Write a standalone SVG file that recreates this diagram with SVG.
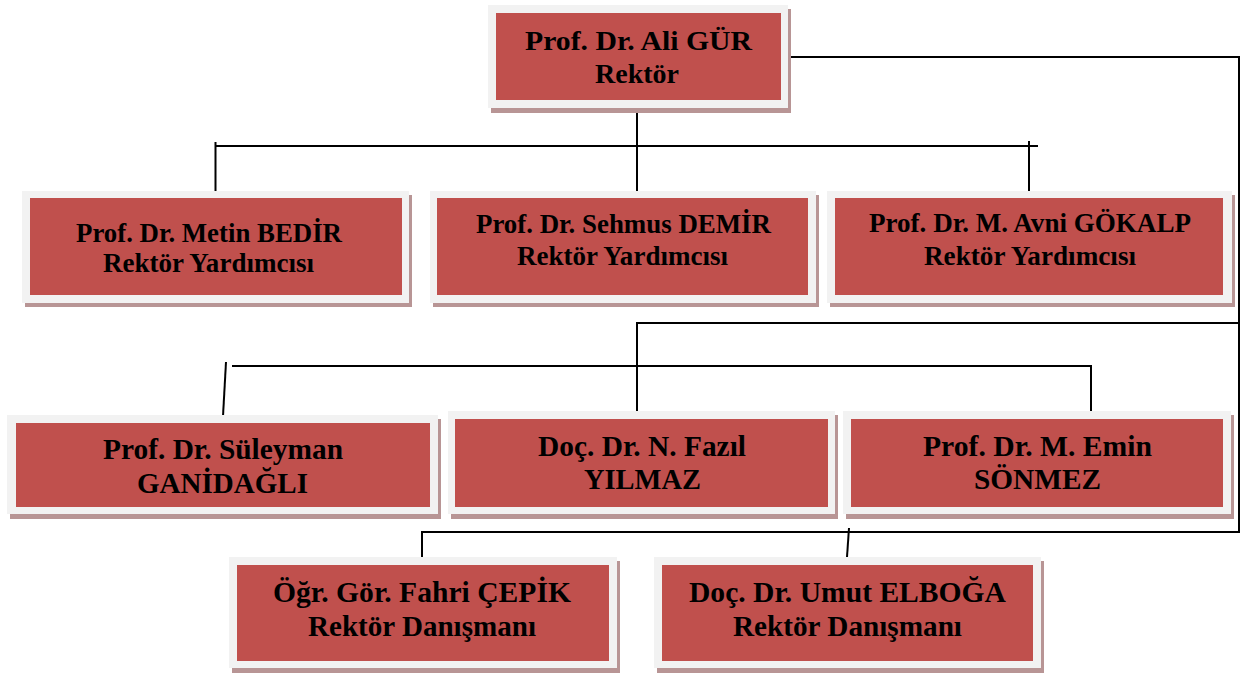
<svg xmlns="http://www.w3.org/2000/svg" width="1241" height="673" viewBox="0 0 1241 673">
<style>
.sh{fill:#b89595}
.fr{fill:#f2f2f2}
.bx{fill:#c0504d}
text{font-family:"Liberation Serif","Times New Roman",serif;font-weight:bold;fill:#000}
.t0{font-size:28px}
.t1{font-size:26.5px}
.t2{font-size:29px}
.ln{fill:none;stroke:#000;stroke-width:2}
</style>
<rect width="1241" height="673" fill="#fff"/>
<g id="connectors">
<path class="ln" d="M788,57 H1239 V532 H422 V557"/>
<path class="ln" d="M637,108 V191"/>
<path class="ln" d="M215.5,191 V142 M215.5,146 H1038 M1029,141 V191"/>
<path class="ln" d="M637,411 V323 H1239"/>
<path class="ln" d="M232,366 H1091 V411"/>
<path class="ln" d="M226,362 L223,416"/>
<path class="ln" d="M849,528 L847,557"/>
</g>
<g id="rektor">
<rect class="sh" x="491" y="9" width="300" height="104"/>
<rect class="fr" x="488" y="5" width="300" height="103"/>
<rect class="bx" x="496" y="13" width="285" height="87"/>
<text class="t0" x="525" y="50" textLength="227" lengthAdjust="spacingAndGlyphs">Prof. Dr. Ali GÜR</text>
<text class="t0" x="595" y="83" textLength="84" lengthAdjust="spacingAndGlyphs">Rektör</text>
</g>
<g id="bedir">
<rect class="sh" x="25" y="195" width="387" height="112"/>
<rect class="fr" x="22" y="191" width="387" height="112"/>
<rect class="bx" x="30" y="198" width="372" height="97"/>
<text class="t1" x="76" y="242" textLength="266" lengthAdjust="spacingAndGlyphs">Prof. Dr. Metin BEDİR</text>
<text class="t1" x="103" y="272" textLength="211" lengthAdjust="spacingAndGlyphs">Rektör Yardımcısı</text>
</g>
<g id="demir">
<rect class="sh" x="433" y="195" width="386" height="112"/>
<rect class="fr" x="430" y="191" width="386" height="112"/>
<rect class="bx" x="437" y="198" width="371" height="97"/>
<text class="t1" x="476" y="233" textLength="295" lengthAdjust="spacingAndGlyphs">Prof. Dr. Sehmus DEMİR</text>
<text class="t1" x="517" y="265" textLength="211" lengthAdjust="spacingAndGlyphs">Rektör Yardımcısı</text>
</g>
<g id="gokalp">
<rect class="sh" x="830" y="195" width="405" height="112"/>
<rect class="fr" x="827" y="191" width="405" height="112"/>
<rect class="bx" x="835" y="198" width="388" height="97"/>
<text class="t1" x="869" y="232" textLength="322" lengthAdjust="spacingAndGlyphs">Prof. Dr. M. Avni GÖKALP</text>
<text class="t1" x="924" y="265" textLength="212" lengthAdjust="spacingAndGlyphs">Rektör Yardımcısı</text>
</g>
<g id="ganidagli">
<rect class="sh" x="10" y="419" width="431" height="100"/>
<rect class="fr" x="7" y="415" width="431" height="99"/>
<rect class="bx" x="16" y="423" width="414" height="84"/>
<text class="t2" x="103" y="459" textLength="240" lengthAdjust="spacingAndGlyphs">Prof. Dr. Süleyman</text>
<text class="t2" x="137" y="493" textLength="171" lengthAdjust="spacingAndGlyphs">GANİDAĞLI</text>
</g>
<g id="yilmaz">
<rect class="sh" x="451" y="415" width="387" height="104"/>
<rect class="fr" x="448" y="411" width="387" height="103"/>
<rect class="bx" x="455" y="419" width="373" height="88"/>
<text class="t2" x="538" y="456" textLength="208" lengthAdjust="spacingAndGlyphs">Doç. Dr. N. Fazıl</text>
<text class="t2" x="584" y="489" textLength="117" lengthAdjust="spacingAndGlyphs">YILMAZ</text>
</g>
<g id="sonmez">
<rect class="sh" x="846" y="415" width="388" height="104"/>
<rect class="fr" x="843" y="411" width="388" height="103"/>
<rect class="bx" x="851" y="419" width="372" height="88"/>
<text class="t2" x="923" y="456" textLength="229" lengthAdjust="spacingAndGlyphs">Prof. Dr. M. Emin</text>
<text class="t2" x="974" y="489" textLength="127" lengthAdjust="spacingAndGlyphs">SÖNMEZ</text>
</g>
<g id="cepik">
<rect class="sh" x="232" y="561" width="388" height="112"/>
<rect class="fr" x="229" y="557" width="388" height="111"/>
<rect class="bx" x="237" y="565" width="372" height="96"/>
<text class="t2" x="273" y="602" textLength="298" lengthAdjust="spacingAndGlyphs">Öğr. Gör. Fahri ÇEPİK</text>
<text class="t2" x="308" y="636" textLength="228" lengthAdjust="spacingAndGlyphs">Rektör Danışmanı</text>
</g>
<g id="elboga">
<rect class="sh" x="657" y="561" width="387" height="112"/>
<rect class="fr" x="654" y="557" width="387" height="111"/>
<rect class="bx" x="662" y="565" width="371" height="96"/>
<text class="t2" x="689" y="602" textLength="317" lengthAdjust="spacingAndGlyphs">Doç. Dr. Umut ELBOĞA</text>
<text class="t2" x="733" y="636" textLength="229" lengthAdjust="spacingAndGlyphs">Rektör Danışmanı</text>
</g>
</svg>
